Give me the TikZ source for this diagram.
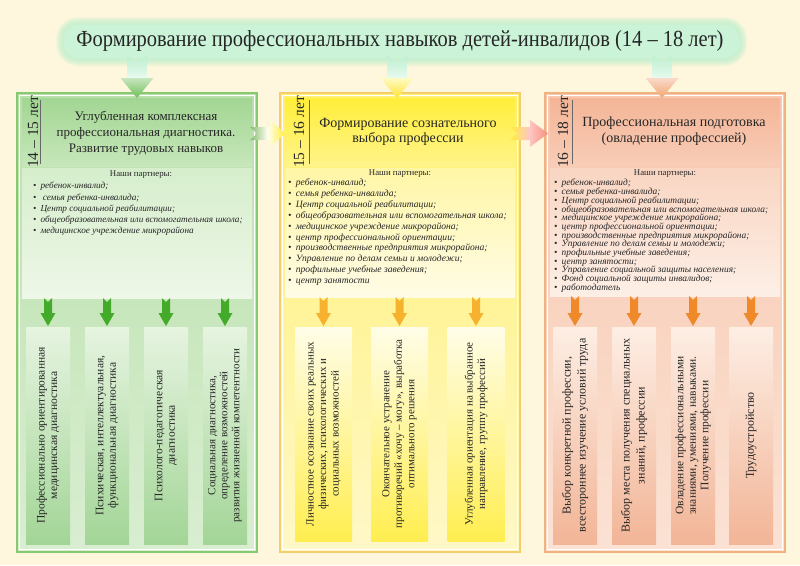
\documentclass[tikz,border=0pt]{standalone}
\usepackage{fontspec}
\setmainfont{Liberation Serif}
\newfontfamily\titlefont[FakeStretch=0.89]{Liberation Serif}
\newcommand\tightlines{\lineskiplimit=-50pt\relax\lineskip=0pt\relax}
\definecolor{bg}{HTML}{FEF7DD}
\definecolor{txt}{HTML}{262626}
\definecolor{mint}{HTML}{BDF0CE}
\definecolor{mintA}{HTML}{BDEFCF}
\definecolor{mintB}{HTML}{EAFBF1}
% column 1 (green)
\definecolor{gBorder}{HTML}{86C96E}
\definecolor{gBodyT}{HTML}{B9E0AA}
\definecolor{gBodyB}{HTML}{D9EED1}
\definecolor{gHdrT}{HTML}{A2D693}
\definecolor{gHdrB}{HTML}{C7E7BA}
\definecolor{gParT}{HTML}{D6EECC}
\definecolor{gParB}{HTML}{EEF7E8}
\definecolor{gBoxT}{HTML}{E6F4E0}
\definecolor{gBoxB}{HTML}{A3D597}
\definecolor{gArr}{HTML}{44AA2A}
% column 2 (yellow)
\definecolor{yBorder}{HTML}{F3CE6A}
\definecolor{yBodyT}{HTML}{FFF070}
\definecolor{yBodyB}{HTML}{FFF8C8}
\definecolor{yHdrT}{HTML}{FFEE3A}
\definecolor{yHdrB}{HTML}{FFF48A}
\definecolor{yParT}{HTML}{FFF6A6}
\definecolor{yParB}{HTML}{FFFCE6}
\definecolor{yBoxT}{HTML}{FFFDE8}
\definecolor{yBoxB}{HTML}{FFEE50}
\definecolor{yArr}{HTML}{F6B22E}
% column 3 (salmon)
\definecolor{sBorder}{HTML}{F0B27F}
\definecolor{sBodyT}{HTML}{F7C7AE}
\definecolor{sBodyB}{HTML}{FBE2D4}
\definecolor{sHdrT}{HTML}{F4B597}
\definecolor{sHdrB}{HTML}{F8CDB7}
\definecolor{sParT}{HTML}{F9D5C2}
\definecolor{sParB}{HTML}{FDEFE6}
\definecolor{sBoxT}{HTML}{FDEEE4}
\definecolor{sBoxB}{HTML}{F2B597}
\definecolor{sArr}{HTML}{F0892A}

% down block arrow with notched tail: cx, ytop, shaftw, headw, notch, yhead, ytip, options
\newcommand\dnarrow[8]{%
  \path[#8] ({#1-#3/2},#2) -- (#1,{#2+#5}) -- ({#1+#3/2},#2) -- ({#1+#3/2},#6)
    -- ({#1+#4/2},#6) -- (#1,#7) -- ({#1-#4/2},#6) -- ({#1-#3/2},#6) -- cycle;}
% top arrow: cx, head top colour, head bottom colour
\newcommand\toparrow[3]{%
  \path[shade, top color=mintA, bottom color=mintB]
    ({#1-10},56) -- (#1,62) -- ({#1+10},56) -- ({#1+10},79) -- ({#1-10},79) -- cycle;
  \path[shade, top color=#2, bottom color=#3]
    ({#1-16.5},78) -- ({#1+16.5},78) -- (#1,98) -- cycle;}
% side arrow: xtail, cy, xhead, xtip, left colour, right colour
\newcommand\sidearrow[6]{%
  \path[shade, left color=#5, right color=#6, middle color=white!92!#6]
    (#1,{#2-6.5}) -- (#3,{#2-6.5}) -- (#3,{#2-13.5}) -- (#4,#2) -- (#3,{#2+13.5})
    -- (#3,{#2+6.5}) -- (#1,{#2+6.5}) -- ({#1+7},#2) -- cycle;}
\newcommand\itm[1]{\textbullet\hspace{0.45em}#1}

\tikzset{
  hdr/.style={align=center, text=txt, font=\fontsize{14}{15.5}\selectfont},
  age/.style={rotate=90, text=txt, inner sep=0.5pt, font=\fontsize{15.5}{18}\selectfont},
  agel/.style={draw=txt!70, line width=0.6pt},
  ptitle/.style={text=txt, inner sep=0pt, font=\fontsize{8.8}{10}\selectfont},
  plist/.style={align=left, anchor=north west, inner sep=0pt, text=txt},
  rot/.style={rotate=90, align=center, text=txt, inner sep=0pt},
  gbox/.style={minimum width=44, minimum height=217, inner sep=0pt, top color=gBoxT, bottom color=gBoxB},
  ybox/.style={minimum width=57, minimum height=214, inner sep=0pt, top color=yBoxT, bottom color=yBoxB},
  sbox/.style={minimum width=44, minimum height=217, inner sep=0pt, top color=sBoxT, bottom color=sBoxB},
}

\begin{document}
\begin{tikzpicture}[x=1pt,y=-1pt]
\useasboundingbox (0,0) rectangle (800,565);
\fill[bg] (0,0) rectangle (800,565);

% ---------- title pill with glow
\foreach \i in {8,7,...,1}{
  \fill[mint, opacity=0.17, rounded corners={14pt+\i pt}]
    ({64-\i},{25-\i}) rectangle ({739+\i},{58+\i});
}
\fill[mint!80!white, rounded corners=14pt] (64,25) rectangle (739,58);
\node[text=txt, font=\titlefont\fontsize{23}{26}\selectfont] (title) at (400,41)
  {Формирование профессиональных навыков детей-инвалидов (14 – 18 лет)};

% ---------- column 1
\shade[top color=gBodyT, bottom color=gBodyB] (17,93) rectangle (257,552);
\draw[white, line width=1pt] (19.5,95.5) rectangle (254.5,549.5);
\draw[gBorder, line width=1.4pt] (17,93) rectangle (257,552);
\shade[top color=gHdrT, bottom color=gHdrB] (22,98) rectangle (252,166);
\shade[top color=gParT, bottom color=gParB] (22,168) rectangle (252,298);
\node[age] (age1) at (33,132) {14 – 15 лет};
\draw[agel] (40,100) -- (40,164);
\node[hdr, font=\fontsize{13}{16}\selectfont] (h1) at (146,133)
  {Углубленная комплексная\\профессиональная диагностика.\\Развитие трудовых навыков};
\node[ptitle] (pt1) at (141,175) {Наши партнеры:};
\node[plist, font={\fontsize{9.2}{11.3}\selectfont\itshape\tightlines}] (pl1) at (33,182)
  {\itm{ребенок-инвалид;}\\
   \itm{ семья ребенка-инвалида;}\\
   \itm{Центр социальной реабилитации;}\\
   \itm{общеобразовательная или вспомогательная школа;}\\
   \itm{медицинское учреждение микрорайона}};
\node[gbox] (b11) at (48,435.5) {};
\node[gbox] (b12) at (107,435.5) {};
\node[gbox] (b13) at (166,435.5) {};
\node[gbox] (b14) at (225,435.5) {};
\node[rot, font=\fontsize{11.5}{12.5}\selectfont] (t11) at (b11) {Профессионально ориентированная\\медицинская диагностика};
\node[rot, font=\fontsize{11.5}{12.5}\selectfont] (t12) at (b12) {Психическая, интеллектуальная,\\функциональная диагностика};
\node[rot, font=\fontsize{11.5}{12.5}\selectfont] (t13) at (b13) {Психолого-педагогическая\\диагностика};
\node[rot, font=\fontsize{11}{12}\selectfont] (t14) at (b14) {Социальная диагностика,\\определение возможностей\\развития жизненной компетентности};
\foreach \cx in {48,107,166,225}{\dnarrow{\cx}{298}{8}{15}{4}{313}{326}{fill=gArr}}

% ---------- column 2
\shade[top color=yBodyT, bottom color=yBodyB] (280,93) rectangle (520,552);
\draw[white, line width=1pt] (282.5,95.5) rectangle (517.5,549.5);
\draw[yBorder, line width=1.4pt] (280,93) rectangle (520,552);
\shade[top color=yHdrT, bottom color=yHdrB] (285,98) rectangle (515,166);
\shade[top color=yParT, bottom color=yParB] (285,168) rectangle (515,297);
\node[age] (age2) at (299,132) {15 – 16 лет};
\draw[agel] (309,100) -- (309,164);
\node[hdr] (h2) at (408,132) {Формирование сознательного\\выбора профессии};
\node[ptitle] (pt2) at (400,174) {Наши партнеры:};
\node[plist, font={\fontsize{9.6}{10.9}\selectfont\itshape\tightlines}] (pl2) at (288,178.5)
  {\itm{ребенок-инвалид;}\\
   \itm{семья ребенка-инвалида;}\\
   \itm{Центр социальной реабилитации;}\\
   \itm{общеобразовательная или вспомогательная школа;}\\
   \itm{медицинское учреждение микрорайона;}\\
   \itm{центр профессиональной ориентации;}\\
   \itm{производственные предприятия микрорайона;}\\
   \itm{Управление по делам семьи и молодежи;}\\
   \itm{профильные учебные заведения;}\\
   \itm{центр занятости}};
\node[ybox] (b21) at (323.5,434) {};
\node[ybox] (b22) at (399.5,434) {};
\node[ybox] (b23) at (476,434) {};
\node[rot, font=\fontsize{11}{12.5}\selectfont] (t21) at (b21) {Личностное осознание своих реальных\\физических, психологических и\\социальных возможностей};
\node[rot, font=\fontsize{11}{12.5}\selectfont] (t22) at (b22) {Окончательное устранение\\противоречий «хочу – могу», выработка\\оптимального решения};
\node[rot, font=\fontsize{11}{12.5}\selectfont] (t23) at (b23) {Углубленная ориентация на выбранное\\направление, группу профессий};
\foreach \cx in {323.5,399.5,476}{\dnarrow{\cx}{297}{8}{15}{4}{313}{326}{fill=yArr}}

% ---------- column 3
\shade[top color=sBodyT, bottom color=sBodyB] (545,93) rectangle (785,552);
\draw[white, line width=1pt] (547.5,95.5) rectangle (782.5,549.5);
\draw[sBorder, line width=1.4pt] (545,93) rectangle (785,552);
\shade[top color=sHdrT, bottom color=sHdrB] (550,98) rectangle (780,166);
\shade[top color=sParT, bottom color=sParB] (550,168) rectangle (780,296);
\node[age] (age3) at (563,132) {16 – 18 лет};
\draw[agel] (572,100) -- (572,164);
\node[hdr] (h3) at (674,131) {Профессиональная подготовка\\(овладение профессией)};
\node[ptitle] (pt3) at (665,174) {Наши партнеры:};
\node[plist, font={\fontsize{9.4}{8.7}\selectfont\itshape\tightlines}] (pl3) at (554,179)
  {\itm{ребенок-инвалид;}\\
   \itm{семья ребенка-инвалида;}\\
   \itm{Центр социальной реабилитации;}\\
   \itm{общеобразовательная или вспомогательная школа;}\\
   \itm{медицинское учреждение микрорайона;}\\
   \itm{центр профессиональной ориентации;}\\
   \itm{производственные предприятия микрорайона;}\\
   \itm{Управление по делам семьи и молодежи;}\\
   \itm{профильные учебные заведения;}\\
   \itm{центр занятости;}\\
   \itm{Управление социальной защиты населения;}\\
   \itm{Фонд социальной защиты инвалидов;}\\
   \itm{работодатель}};
\node[sbox] (b31) at (575,435.5) {};
\node[sbox] (b32) at (634,435.5) {};
\node[sbox] (b33) at (693,435.5) {};
\node[sbox] (b34) at (751,435.5) {};
\node[rot, font=\fontsize{12}{15}\selectfont] (t31) at (b31) {Выбор конкретной профессии,\\всестороннее изучение условий труда};
\node[rot, font=\fontsize{12}{15}\selectfont] (t32) at (b32) {Выбор места получения специальных\\знаний, профессии};
\node[rot, font=\fontsize{11.5}{12.5}\selectfont] (t33) at (b33) {Овладение профессиональными\\знаниями, умениями, навыками.\\Получение профессии};
\node[rot, font=\fontsize{12}{14}\selectfont] (t34) at (b34) {Трудоустройство};
\foreach \cx in {575,634,693,751}{\dnarrow{\cx}{296}{8}{15}{4}{313}{326}{fill=sArr}}

% ---------- arrows from title and between columns
\toparrow{137}{gHdrT!60!white}{gArr!55!gHdrT}
\toparrow{397}{yHdrT!30!white}{yHdrT!90!orange}
\toparrow{662}{sHdrT!50!white}{sArr!35!sHdrT}
\sidearrow{250}{133.5}{270}{285}{gBorder!80!gray}{yHdrT}
\sidearrow{510}{133.5}{530}{548}{yHdrT}{sBoxB!80!red}
\end{tikzpicture}
\end{document}
